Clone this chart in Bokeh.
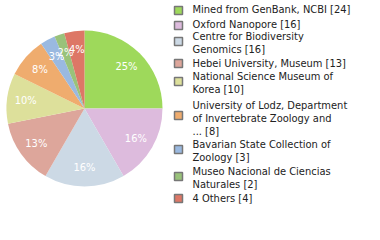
import math
from bokeh.plotting import figure
from bokeh.models import Range1d, ColumnDataSource
from bokeh.core.properties import value
from bokeh.embed import file_html
from bokeh.resources import INLINE

labels = ["Mined from GenBank, NCBI [24]", "Oxford Nanopore [16]",
          "Centre for Biodiversity\nGenomics [16]", "Hebei University, Museum [13]",
          "National Science Museum of\nKorea [10]",
          "University of Lodz, Department\nof Invertebrate Zoology and\n... [8]",
          "Bavarian State Collection of\nZoology [3]", "Museo Nacional de Ciencias\nNaturales [2]",
          "4 Others [4]"]
counts = [24, 16, 16, 13, 10, 8, 3, 2, 4]
colors = ["#9ED95B", "#DDBBDD", "#CCD9E5", "#DDA69B", "#DDE09B",
          "#EFAC6E", "#9AB9E0", "#99C27A", "#DD7766"]

W, H = 380, 240
cx, cy, r = 84, H - 108, 78
FONT = "DejaVu Sans Condensed"

total = sum(counts)
starts, ends, lx, ly, pct = [], [], [], [], []
a = math.pi / 2
for c in counts:
    sweep = 2 * math.pi * c / total
    starts.append(a - sweep)
    ends.append(a)
    mid = a - sweep / 2
    lx.append(cx + 0.76 * r * math.cos(mid))
    ly.append(cy + 0.76 * r * math.sin(mid))
    pct.append("%d%%" % int(100 * c / total))
    a -= sweep

p = figure(width=W, height=H, x_range=Range1d(0, W), y_range=Range1d(0, H),
           output_backend="svg", toolbar_location=None, min_border=0)
p.axis.visible = False
p.grid.visible = False
p.outline_line_color = None

p.wedge(x=cx, y=cy, radius=r, start_angle=starts, end_angle=ends,
        fill_color=colors, line_color=None)
p.text(x=lx, y=ly, text=pct, text_color="white", text_font=value(FONT),
       text_font_size="11px", text_align="center", text_baseline="middle")

# legend
sq_y = [10, 25, 41, 63, 81, 115, 149, 176, 198]
block_y = [9, 24, 42, 63, 82, 117.5, 150, 177.5, 198]
p.rect(x=[178] * len(labels), y=[H - v for v in sq_y], width=8, height=8,
       fill_color=colors, line_color="#777777", line_width=1.5)
p.text(x=[192] * len(labels), y=[H - t for t in block_y], text=labels,
       text_font=value(FONT), text_font_size="11px", text_color="#222222",
       text_align="left", text_baseline="middle", text_line_height=1.0)

open("out.html", "w").write(file_html(p, INLINE))
